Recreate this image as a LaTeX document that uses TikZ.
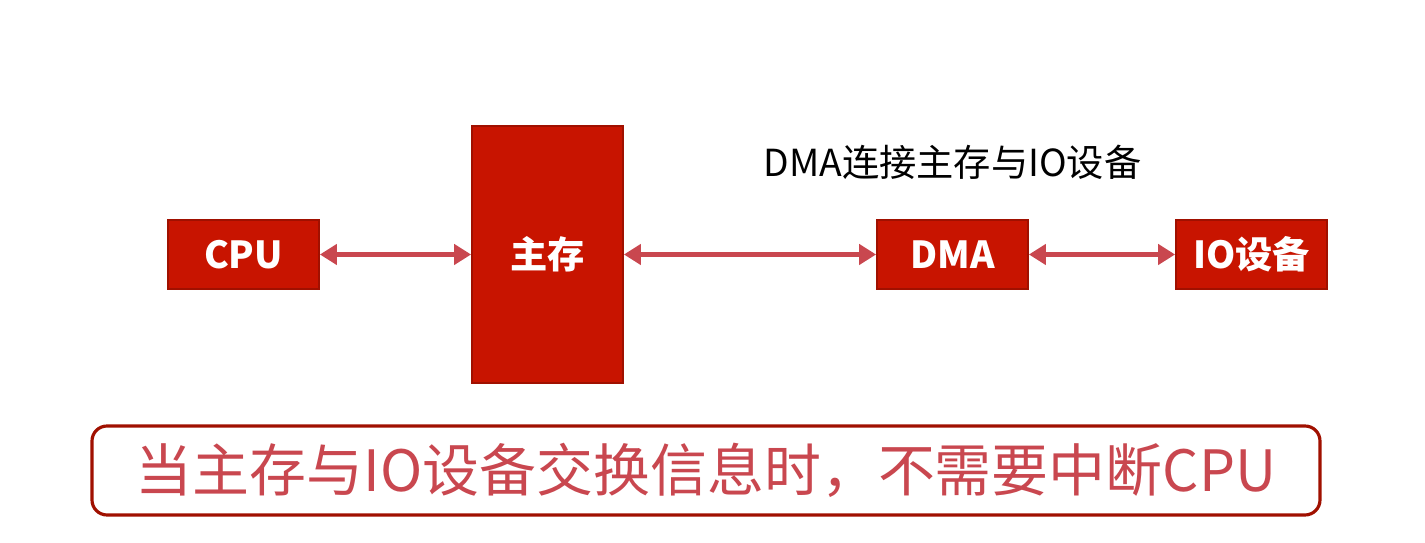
\documentclass[tikz,border=0pt]{standalone}
\usepackage{fontspec}
\usepackage{tikz}
\usetikzlibrary{arrows.meta}
\newfontfamily\cjk{Noto Sans CJK SC}
\definecolor{boxred}{RGB}{200,20,0}
\definecolor{edgered}{RGB}{160,16,0}
\definecolor{arrowred}{RGB}{201,71,79}
\tikzset{
unit/.style={shape=rectangle, draw=edgered, line width=0.5pt, fill=boxred, text=white,
  font=\cjk\bfseries\fontsize{10.6}{12}\selectfont, minimum width=1.51cm, minimum height=0.69cm, inner sep=0pt},
link/.style={arrowred, line width=1.4pt,
  {Triangle[width=0.2cm,length=0.17cm]}-{Triangle[width=0.2cm,length=0.17cm]}}}

\begin{document}
\begin{tikzpicture}
    \useasboundingbox (0,0) rectangle (14.25,5.43);

                \node[unit] (CPU) at (2.435,2.885) {CPU};
                \node[unit, minimum height=2.57cm] (MEM) at (5.475,2.885) {主存};
                \node[unit] (DMA) at (9.525,2.885) {DMA};
                \node[unit] (IO) at (12.515,2.885) {IO设备};

                \node[font=\cjk\fontsize{10.6}{12}\selectfont] (L) at (9.525,3.81) {DMA连接主存与IO设备};

                \draw[link] (CPU) -- (MEM);
                \draw[link] (MEM) -- (DMA);
                \draw[link] (DMA) -- (IO);

                \node[shape=rectangle, rounded corners=0.15cm, draw=edgered, line width=0.9pt, fill=white,
                  minimum width=12.28cm, minimum height=0.89cm, text=arrowred,
                  font=\cjk\fontsize{16.2}{18}\selectfont] (N) at (7.06,0.725) {当主存与IO设备交换信息时，不需要中断CPU};

            \end{tikzpicture}
\end{document}
